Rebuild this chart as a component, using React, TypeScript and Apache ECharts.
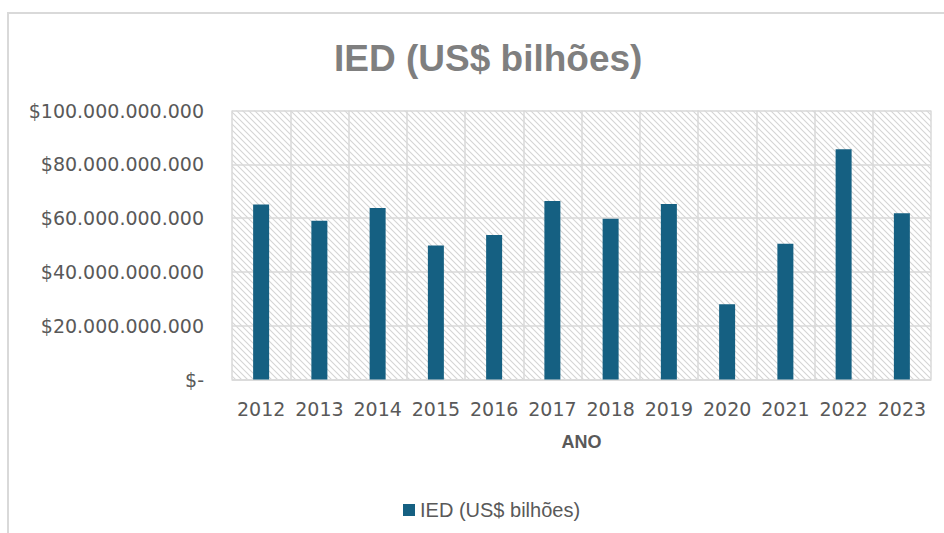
import React, { useEffect, useRef } from "react";
import * as echarts from "echarts";

const years = ["2012", "2013", "2014", "2015", "2016", "2017", "2018", "2019", "2020", "2021", "2022", "2023"];
const iedValues = [65.1e9, 59.0e9, 63.8e9, 49.8e9, 53.7e9, 66.4e9, 59.8e9, 65.2e9, 28.0e9, 50.5e9, 85.6e9, 61.8e9];
const seriesName = "IED (US$ bilhões)";
const titleText = "IED (US$ bilhões)";
const xAxisName = "ANO";

function formatMoney(v: number): string {
  if (v === 0) return "$-";
  const s = Math.round(v).toString();
  return "$" + s.replace(/\B(?=(\d{3})+(?!\d))/g, ".");
}

function makeHatch(): HTMLCanvasElement {
  const c = document.createElement("canvas");
  const n = 6;
  c.width = n;
  c.height = n;
  const ctx = c.getContext("2d")!;
  ctx.fillStyle = "#ffffff";
  ctx.fillRect(0, 0, n, n);
  ctx.strokeStyle = "#d4d4d4";
  ctx.lineWidth = 1.1;
  ctx.beginPath();
  ctx.moveTo(-1, -1);
  ctx.lineTo(n + 1, n + 1);
  ctx.moveTo(-n - 1, -1);
  ctx.lineTo(1, n + 1);
  ctx.moveTo(n - 1, -1);
  ctx.lineTo(2 * n + 1, n + 1);
  ctx.stroke();
  return c;
}

export default function App() {
  const ref = useRef<HTMLDivElement>(null);
  useEffect(() => {
    if (!ref.current) return;
    const chart = echarts.init(ref.current, undefined, { renderer: "svg" });
    const gray = "#595959";
    const lineGray = "#d9d9d9";
    chart.setOption({
      animation: false,
      backgroundColor: "#ffffff",
      title: {
        text: titleText,
        left: 329,
        top: 35,
        textStyle: {
          fontFamily: "Liberation Sans",
          fontWeight: "bold",
          fontSize: 37,
          color: "#7f7f7f",
        },
      },
      graphic: [
        {
          type: "rect",
          shape: { x: 8, y: 13, width: 2000, height: 2000 },
          style: { fill: "none", stroke: "#d9d9d9", lineWidth: 2 },
          silent: true,
        },
      ],
      legend: {
        left: 398,
        top: 495,
        itemWidth: 12,
        itemHeight: 12,
        itemGap: 4,
        icon: "rect",
        textStyle: { color: gray, fontSize: 20, fontFamily: "Liberation Sans" },
        data: [seriesName],
      },
      grid: {
        left: 232,
        right: 13,
        top: 110.5,
        bottom: 153.5,
        show: true,
        borderWidth: 0,
        backgroundColor: { image: makeHatch(), repeat: "repeat" },
      },
      xAxis: {
        type: "category",
        data: years,
        name: xAxisName,
        nameLocation: "middle",
        nameGap: 53,
        nameTextStyle: {
          fontFamily: "Liberation Sans",
          fontWeight: "bold",
          fontSize: 18,
          color: gray,
        },
        axisLine: { lineStyle: { color: lineGray, width: 1.5 } },
        axisTick: { show: false },
        axisLabel: {
          fontFamily: "DejaVu Sans",
          fontSize: 19,
          color: gray,
          margin: 20,
          interval: 0,
        },
        splitLine: { show: true, interval: 0, lineStyle: { color: lineGray, width: 1.5 } },
      },
      yAxis: {
        type: "value",
        min: 0,
        max: 100e9,
        interval: 20e9,
        axisLine: { show: false },
        axisTick: { show: false },
        axisLabel: {
          fontFamily: "DejaVu Sans",
          fontSize: 19,
          color: gray,
          margin: 28,
          formatter: (v: number) => formatMoney(v),
        },
        splitLine: { show: true, lineStyle: { color: lineGray, width: 1.5 } },
      },
      series: [
        {
          name: seriesName,
          type: "bar",
          data: iedValues,
          barWidth: 16,
          itemStyle: { color: "#156082" },
        },
      ],
    });
    return () => chart.dispose();
  }, []);
  return (
    <div
      ref={ref}
      style={{ position: "fixed", left: 0, top: 0, width: 944, height: 533 }}
    />
  );
}
